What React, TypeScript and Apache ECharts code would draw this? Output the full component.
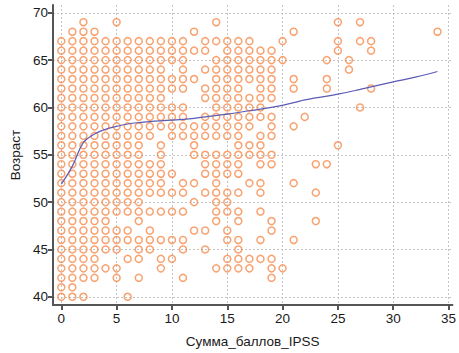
import React, { useEffect, useRef } from "react";
import * as echarts from "echarts";

const ages = [69, 68, 67, 66, 65, 64, 63, 62, 61, 60, 59, 58, 57, 56, 55, 54, 53, 52, 51, 50, 49, 48, 47, 46, 45, 44, 43, 42, 41, 40];
const scoresByAge = [
  [2, 5, 14, 25, 27],
  [1, 2, 3, 12, 21, 34],
  [0, 1, 2, 3, 4, 5, 6, 7, 8, 9, 10, 11, 13, 14, 15, 16, 17, 20, 25, 27, 28],
  [0, 1, 2, 3, 4, 5, 6, 7, 8, 9, 10, 11, 12, 13, 15, 16, 17, 18, 19, 25, 28],
  [0, 1, 2, 3, 4, 5, 6, 7, 8, 9, 10, 11, 14, 15, 16, 17, 18, 19, 20, 24, 26],
  [0, 1, 2, 3, 4, 5, 6, 7, 8, 9, 11, 13, 14, 15, 16, 17, 18, 19, 26],
  [0, 1, 2, 3, 4, 5, 6, 7, 8, 9, 10, 11, 12, 14, 15, 16, 17, 18, 19, 21, 24],
  [0, 1, 2, 3, 4, 5, 6, 7, 8, 9, 10, 11, 13, 14, 15, 16, 18, 19, 21, 24, 28],
  [0, 1, 2, 3, 4, 5, 6, 7, 8, 9, 13, 14, 15, 16, 17, 18, 19],
  [0, 1, 2, 3, 4, 5, 6, 7, 8, 9, 10, 11, 14, 15, 16, 17, 18, 27],
  [0, 1, 2, 3, 4, 5, 6, 7, 8, 9, 10, 11, 13, 14, 15, 16, 17, 18, 19, 22],
  [0, 1, 2, 3, 4, 5, 6, 7, 8, 9, 10, 11, 12, 13, 14, 15, 16, 17, 19, 21],
  [0, 1, 2, 3, 4, 5, 6, 7, 8, 10, 11, 12, 13, 14, 15, 16, 18, 19],
  [0, 1, 2, 3, 4, 5, 6, 7, 9, 12, 16, 17, 18, 25],
  [0, 1, 2, 3, 4, 5, 6, 7, 9, 12, 13, 14, 15, 16, 17, 18, 19],
  [0, 1, 2, 3, 4, 5, 6, 7, 8, 9, 13, 14, 15, 16, 18, 19, 23, 24],
  [0, 1, 2, 3, 4, 5, 6, 7, 8, 9, 10, 13, 14, 15, 16],
  [0, 1, 2, 3, 4, 5, 6, 7, 8, 9, 11, 12, 14, 17, 18, 21],
  [0, 1, 2, 3, 4, 5, 6, 7, 8, 9, 10, 11, 13, 14, 15, 16, 18, 23],
  [0, 1, 2, 3, 4, 5, 6, 7, 12, 14, 15],
  [0, 1, 2, 3, 4, 5, 6, 7, 8, 9, 10, 11, 14, 15, 16, 18],
  [0, 1, 2, 3, 4, 7, 14, 16, 19, 23],
  [0, 1, 2, 3, 4, 5, 6, 8, 12, 13, 15, 19],
  [0, 1, 2, 3, 4, 5, 6, 7, 8, 9, 10, 11, 15, 16, 18, 21],
  [0, 1, 2, 3, 4, 5, 7, 8, 11, 13, 16],
  [0, 1, 2, 3, 6, 7, 9, 10, 15, 16, 17, 18, 19],
  [0, 1, 2, 3, 4, 5, 9, 14, 15, 16, 17, 19, 20],
  [0, 1, 2, 3, 5, 7, 11, 19],
  [0, 1],
  [0, 1, 2, 6],
];

const trendX = [0, 1, 2, 3, 4, 5, 6, 7, 8, 10, 12, 13, 15, 17, 19, 21, 22, 23, 25, 27, 30, 32, 34];
const trendY = [51.9, 53.8, 56.3, 57.2, 57.7, 58.0, 58.25, 58.4, 58.5, 58.65, 58.85, 59.0, 59.3, 59.65, 60.0, 60.5, 60.8, 61.0, 61.4, 61.9, 62.7, 63.2, 63.8];

const xTicks = [0, 5, 10, 15, 20, 25, 30, 35];
const yTicks = [40, 45, 50, 55, 60, 65, 70];

const xName = "Сумма_баллов_IPSS";
const yName = "Возраст";

export default function App() {
  const ref = useRef<HTMLDivElement>(null);
  useEffect(() => {
    if (!ref.current) return;
    const chart = echarts.init(ref.current, null, { renderer: "svg" });
    const points: number[][] = [];
    ages.forEach((a, i) => scoresByAge[i].forEach((s) => points.push([s, a])));
    const trend = trendX.map((x, i) => [x, trendY[i]]);
    const font = "'Liberation Sans', Arial, sans-serif";
    const axisCommon = {
      type: "value" as const,
      axisLine: { show: true, onZero: false, lineStyle: { color: "#555", width: 2 } },
      axisTick: { show: true, length: 5, lineStyle: { color: "#555", width: 2 } },
      splitLine: { show: true, lineStyle: { color: "#c4c4c4", type: [2, 2] as any, width: 1 } },
      axisLabel: { color: "#1a1a1a", fontSize: 13.5, fontFamily: font },
      nameTextStyle: { color: "#1a1a1a", fontSize: 13.5, fontFamily: font },
    };
    chart.setOption({
      animation: false,
      backgroundColor: "#fff",
      grid: { left: 47, right: 0, top: 5, bottom: 40, containLabel: false },
      xAxis: {
        ...axisCommon,
        min: -0.75,
        max: 35.35,
        name: xName,
        nameLocation: "middle",
        nameGap: 29,
        axisTick: { ...axisCommon.axisTick, customValues: xTicks },
        axisLabel: { ...axisCommon.axisLabel, customValues: xTicks, margin: 6 },
      },
      yAxis: {
        ...axisCommon,
        min: 39.13,
        max: 70.82,
        name: yName,
        nameLocation: "middle",
        nameGap: 31,
        axisTick: { ...axisCommon.axisTick, customValues: yTicks },
        axisLabel: { ...axisCommon.axisLabel, customValues: yTicks, margin: 5 },
      },
      series: [
        {
          type: "scatter",
          data: points,
          symbol: "circle",
          symbolSize: 7,
          clip: false,
          itemStyle: { color: "transparent", borderColor: "#f58b4c", borderWidth: 1.5 },
        },
        {
          type: "line",
          data: trend,
          smooth: 0.4,
          showSymbol: false,
          symbol: "none",
          lineStyle: { color: "#5b5bb5", width: 1.2 },
        },
      ],
    });
    return () => chart.dispose();
  }, []);
  return <div ref={ref} style={{ width: 459, height: 353, position: "absolute", left: 0, top: 0 }} />;
}
